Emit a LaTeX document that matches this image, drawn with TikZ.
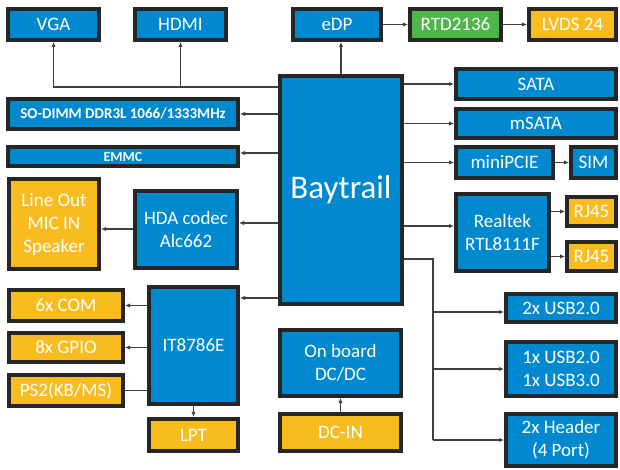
\documentclass[tikz,border=0pt]{standalone}
\usepackage{fontspec}
\setmainfont{Carlito}
\usetikzlibrary{arrows.meta}
\definecolor{chipblue}{RGB}{0,137,207}
\definecolor{portyellow}{RGB}{249,188,30}
\definecolor{bridgegreen}{RGB}{77,184,73}
\tikzset{
  blk/.style={draw=black!85, line width=4pt, text=white, align=center, inner sep=0pt,
    font=\fontsize{19}{23}\selectfont},
  blu/.style={blk, fill=chipblue},
  yel/.style={blk, fill=portyellow},
  grn/.style={blk, fill=bridgegreen},
  bus/.style={draw=black!75, line width=1.2pt},
  link/.style={bus, -{Latex[length=5pt,width=4.5pt]}}
}
\begin{document}
\begin{tikzpicture}[x=1pt,y=-1pt]
\useasboundingbox (0,0) rectangle (620,470);
% top row
\node[blu, minimum width=91pt, minimum height=31pt] (vga) at (53.5,24.5){VGA};
\node[blu, minimum width=91pt, minimum height=31pt] (hdmi) at (180.5,24.5){HDMI};
\node[blu, minimum width=88pt, minimum height=31pt] (edp) at (337,24.5){eDP};
\node[grn, minimum width=91pt, minimum height=31pt] (rtd) at (455.5,24.5){RTD2136};
\node[yel, minimum width=87pt, minimum height=31pt] (lvds) at (572.5,24.5){LVDS 24};
% soc
\node[blu, minimum width=122pt, minimum height=228pt, font=\fontsize{33}{38}\selectfont] (bay) at (341,190){Baytrail};
% left side
\node[blu, minimum width=230pt, minimum height=30pt, font=\bfseries\fontsize{15}{18}\selectfont] (dimm) at (123,114){SO-DIMM DDR3L 1066/1333MHz};
\node[blu, minimum width=230pt, minimum height=19pt, font=\bfseries\fontsize{14}{16}\selectfont] (emmc) at (123,156.5){EMMC};
\node[blu, minimum width=102pt, minimum height=77pt] (hda) at (186,229.5){HDA codec\\Alc662};
\node[yel, minimum width=90pt, minimum height=90pt] (audio) at (54,224){Line Out\\MIC IN\\Speaker};
\node[blu, minimum width=89pt, minimum height=117pt] (sio) at (193.5,345.5){IT8786E};
\node[yel, minimum width=114pt, minimum height=31pt] (com) at (66,305.5){6x COM};
\node[yel, minimum width=114pt, minimum height=29pt] (gpio) at (66,347.5){8x GPIO};
\node[yel, minimum width=114pt, minimum height=31pt] (ps2) at (66,390.5){PS2(KB/MS)};
\node[yel, minimum width=89pt, minimum height=32pt] (lpt) at (193.5,435){LPT};
% power
\node[blu, minimum width=121pt, minimum height=66pt] (dcdc) at (340.5,363){On board\\DC/DC};
\node[yel, minimum width=121pt, minimum height=37pt] (dcin) at (340.5,432.5){DC-IN};
% right side
\node[blu, minimum width=160pt, minimum height=30pt] (sata) at (536,84){SATA};
\node[blu, minimum width=160pt, minimum height=29pt] (msata) at (536,123.5){mSATA};
\node[blu, minimum width=97pt, minimum height=31pt] (mpcie) at (504.5,162.5){miniPCIE};
\node[blu, minimum width=45pt, minimum height=31pt] (sim) at (593.5,162.5){SIM};
\node[blu, minimum width=93pt, minimum height=77pt] (rtl) at (502.5,232.5){Realtek\\RTL8111F};
\node[yel, minimum width=49pt, minimum height=29pt] (rja) at (591.5,211.5){RJ45};
\node[yel, minimum width=49pt, minimum height=29pt] (rjb) at (591.5,256.5){RJ45};
\node[blu, minimum width=110pt, minimum height=28pt] (usb2) at (561,308){2x USB2.0};
\node[blu, minimum width=110pt, minimum height=54pt] (usb23) at (561,369){1x USB2.0\\1x USB3.0};
\node[blu, minimum width=110pt, minimum height=52pt] (hdr) at (561,440){2x Header\\(4 Port)};
\coordinate (usbbus) at (433,259);
\coordinate (usbend) at (433,440);
% connectors
\draw[link] (bay.west |- 0,87) -| (vga.south);
\draw[link] (hdmi.south |- 0,87) -- (hdmi.south);
\draw[link] (bay.north) -- (bay.north |- edp.south);
\draw[link] (edp) -- (rtd);
\draw[link] (rtd) -- (lvds);
\draw[link] (bay.west |- dimm) -- (dimm);
\draw[link] (bay.west |- 0,153) -- (emmc.east |- 0,153);
\draw[link] (bay.west |- 0,223) -- (hda.east |- 0,223);
\draw[link] (hda.west |- 0,229) -- (audio.east |- 0,229);
\draw[link] (bay.west |- 0,298) -- (sio.east |- 0,298);
\draw[link] (sio.west |- com) -- (com);
\draw[link] (sio.west |- gpio) -- (gpio);
\draw[bus] (sio.west |- ps2) -- (ps2.east);
\draw[link] (sio) -- (lpt);
\draw[link] (dcin) -- (dcdc);
\draw[link] (bay.east |- sata) -- (sata);
\draw[link] (bay.east |- msata) -- (msata);
\draw[link] (bay.east |- mpcie) -- (mpcie);
\draw[link] (mpcie) -- (sim);
\draw[link] (bay.east |- 0,226) -- (rtl.west |- 0,226);
\draw[link] (rtl.east |- rja) -- (rja);
\draw[link] (rtl.east |- rjb) -- (rjb);
\draw[bus] (bay.east |- usbbus) -- (usbbus) -- (usbend);
\draw[link] (usbbus |- 0,312) -- (usb2.west |- 0,312);
\draw[link] (usbbus |- usb23) -- (usb23);
\draw[link] (usbend) -- (hdr);
\end{tikzpicture}
\end{document}
